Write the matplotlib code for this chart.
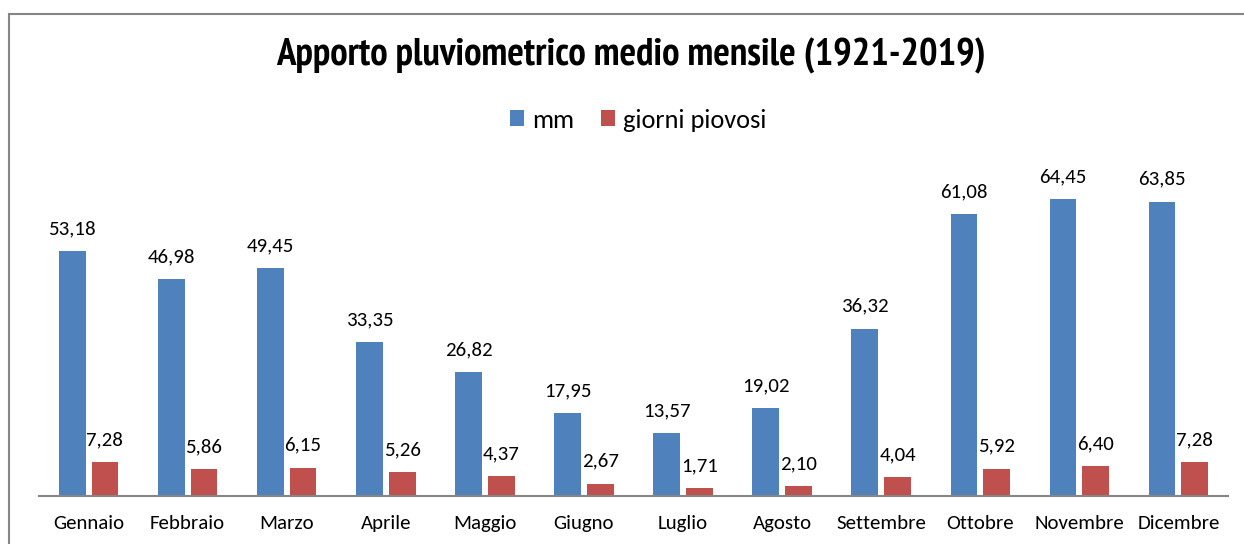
import matplotlib
matplotlib.use('Agg')
import matplotlib.pyplot as plt
from matplotlib.patches import Rectangle
import numpy as np

months = ['Gennaio', 'Febbraio', 'Marzo', 'Aprile', 'Maggio', 'Giugno',
          'Luglio', 'Agosto', 'Settembre', 'Ottobre', 'Novembre', 'Dicembre']
mm = [53.18, 46.98, 49.45, 33.35, 26.82, 17.95, 13.57, 19.02, 36.32, 61.08, 64.45, 63.85]
giorni = [7.28, 5.86, 6.15, 5.26, 4.37, 2.67, 1.71, 2.10, 4.04, 5.92, 6.40, 7.28]

blue = '#4F81BD'
red = '#C0504D'
W, H = 1244, 544

fig = plt.figure(figsize=(W / 100, H / 100), dpi=100)
fig.patch.set_facecolor('white')

# chart frame (runs off the right/bottom edge like the screenshot)
fig.patches.append(Rectangle((9 / W, -0.1), 1.2, (H - 13.5) / H + 0.1,
                             transform=fig.transFigure, fill=False,
                             edgecolor='#868686', linewidth=1.5))

ax = fig.add_axes([39 / W, (H - 496) / H, (1228 - 39) / W, 322.7 / H])
x = np.arange(len(months))
bw = 0.27
gap = 0.06
b1 = ax.bar(x - (bw + gap) / 2, mm, bw, color=blue, label='mm')
b2 = ax.bar(x + (bw + gap) / 2, giorni, bw, color=red, label='giorni piovosi')

lab_font = dict(family=['Carlito', 'DejaVu Sans'], fontsize=15, color='black')
for rects, vals in ((b1, mm), (b2, giorni)):
    for r, v in zip(rects, vals):
        ax.annotate(f'{v:.2f}'.replace('.', ','),
                    (r.get_x() + r.get_width() / 2, r.get_height()),
                    xytext=(0, 10), textcoords='offset points',
                    ha='center', va='bottom', **lab_font)

ax.set_xlim(-0.5, len(months) - 0.5)
ax.set_ylim(0, 70)
ax.set_xticks(x)
ax.set_xticklabels(months, **lab_font)
ax.tick_params(axis='x', length=0, pad=14)
ax.set_yticks([])
for s in ('top', 'right', 'left'):
    ax.spines[s].set_visible(False)
ax.spines['bottom'].set_color('#868686')
ax.spines['bottom'].set_linewidth(1.5)

fig.text(0.5075, (H - 56) / H, 'Apporto pluviometrico medio mensile (1921-2019)',
         ha='center', va='center', fontsize=28, fontweight='bold',
         family=['PT Sans Narrow', 'DejaVu Sans'])

leg = fig.legend(handles=[b1, b2], loc='center', bbox_to_anchor=(0.513, (H - 120) / H),
                 ncol=2, frameon=False, prop={'family': 'Carlito', 'size': 19},
                 handlelength=0.55, handleheight=0.55, handletextpad=0.3,
                 columnspacing=1.0)

fig.savefig('out.png', dpi=100)
